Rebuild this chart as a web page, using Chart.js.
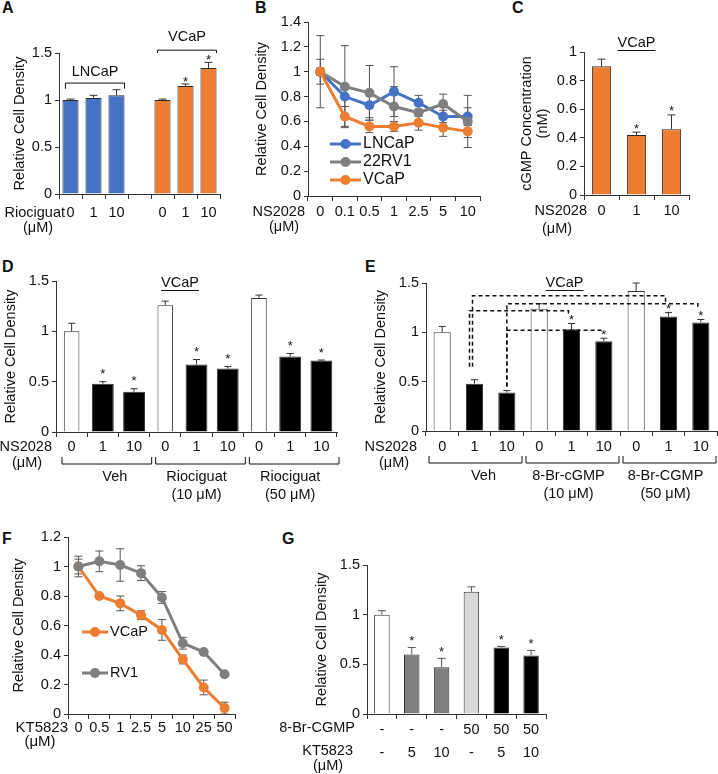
<!DOCTYPE html>
<html>
<head>
<meta charset="utf-8">
<script src="https://cdn.jsdelivr.net/npm/chart.js@4.4.0/dist/chart.umd.min.js"></script>
<style>
  html, body { margin: 0; padding: 0; background: #fff; }
  body { width: 718px; height: 774px; position: relative; overflow: hidden; font-family: 'Liberation Sans', Arial, sans-serif; }
  canvas { position: absolute; }
  .tag { position: absolute; font-weight: bold; font-size: 16px; line-height: 16px; color: #111; }
</style>
</head>
<body>
<div class="tag" style="left:2px;top:0px">A</div>
<div class="tag" style="left:255px;top:0px">B</div>
<div class="tag" style="left:512px;top:0px">C</div>
<div class="tag" style="left:2px;top:259px">D</div>
<div class="tag" style="left:365px;top:259px">E</div>
<div class="tag" style="left:2px;top:531px">F</div>
<div class="tag" style="left:282px;top:531px">G</div>

<canvas id="chartA"></canvas>
<canvas id="chartB"></canvas>
<canvas id="chartC"></canvas>
<canvas id="chartD"></canvas>
<canvas id="chartE"></canvas>
<canvas id="chartF"></canvas>
<canvas id="chartG"></canvas>

<script>
// ---- A: riociguat, LNCaP vs VCaP ----
const aDoses = ['0', '1', '10', '', '0', '1', '10'];
const aDensity = [1.00, 1.02, 1.05, null, 1.00, 1.15, 1.34];
const aError = [0.01, 0.03, 0.06, null, 0.01, 0.02, 0.06];
const aStar = [false, false, false, false, false, true, true];
const aCells = ['LNCaP', 'VCaP'];

// ---- B: NS2028 dose response ----
const bDoses = ['0', '0.1', '0.5', '1', '2.5', '5', '10'];
const bLNCaP = [1.00, 0.80, 0.73, 0.84, 0.75, 0.64, 0.64];
const bLNCaPErr = [0.10, 0.08, 0.10, 0.20, 0.06, 0.05, 0.07];
const b22RV1 = [1.00, 0.88, 0.83, 0.72, 0.67, 0.74, 0.60];
const b22RV1Err = [0.29, 0.33, 0.22, 0.16, 0.03, 0.08, 0.21];
const bVCaP = [1.00, 0.64, 0.56, 0.56, 0.59, 0.55, 0.52];
const bVCaPErr = [0.03, 0.08, 0.05, 0.04, 0.06, 0.07, 0.05];

// ---- C: cGMP concentration ----
const cDoses = ['0', '1', '10'];
const cConc = [0.90, 0.42, 0.46];
const cError = [0.05, 0.02, 0.10];
const cStar = [false, true, true];

// ---- D: NS2028 with riociguat ----
const dDoses = ['0', '1', '10', '0', '1', '10', '0', '1', '10'];
const dDensity = [1.00, 0.48, 0.40, 1.26, 0.67, 0.63, 1.33, 0.75, 0.71];
const dError = [0.08, 0.02, 0.03, 0.04, 0.05, 0.02, 0.03, 0.03, 0.005];
const dStar = [false, true, true, false, true, true, false, true, true];
const dGroups = [['Veh'], ['Riociguat', '(10 μM)'], ['Riociguat', '(50 μM)']];

// ---- E: NS2028 with 8-Br-cGMP ----
const eDoses = ['0', '1', '10', '0', '1', '10', '0', '1', '10'];
const eDensity = [1.00, 0.48, 0.39, 1.24, 1.03, 0.91, 1.42, 1.16, 1.10];
const eError = [0.06, 0.04, 0.02, 0.05, 0.06, 0.03, 0.08, 0.04, 0.03];
const eStar = [false, false, false, false, true, true, false, true, true];
const eGroups = [['Veh'], ['8-Br-cGMP', '(10 μM)'], ['8-Br-CGMP', '(50 μM)']];
// [from bar, to bar, bracket level, start level]
const eCompare = [[1, 7, 1.37, 0.65], [1, 4, 1.22, 0.65], [2, 8, 1.29, 0.45], [2, 5, 1.02, 0.45]];

// ---- F: KT5823 dose response ----
const fDoses = ['0', '0.5', '1', '2.5', '5', '10', '25', '50'];
const fVCaP = [1.00, 0.80, 0.75, 0.67, 0.57, 0.37, 0.18, 0.04];
const fVCaPErr = [0.05, 0.01, 0.05, 0.03, 0.07, 0.03, 0.05, 0.04];
const fRV1 = [1.00, 1.035, 1.01, 0.955, 0.79, 0.48, 0.42, 0.27];
const fRV1Err = [0.07, 0.07, 0.11, 0.05, 0.04, 0.04, 0.01, 0.01];

// ---- G: 8-Br-cGMP with KT5823 ----
const gBromo = ['-', '-', '-', '50', '50', '50'];
const gKT = ['-', '5', '10', '-', '5', '10'];
const gDensity = [1.00, 0.60, 0.47, 1.23, 0.67, 0.59];
const gError = [0.04, 0.07, 0.09, 0.05, 0.01, 0.05];
const gStar = [false, true, true, false, true, true];

const FONT = "'Liberation Sans', Arial, Helvetica, sans-serif";
const BLUE = '#4472C4', ORANGE = '#ED7D31', GRAY = '#7F7F7F';
const INK = '#111', AXIS = '#333';

Chart.defaults.font.family = FONT;
Chart.defaults.font.size = 14.5;
Chart.defaults.color = INK;
Chart.defaults.animation = false;
Chart.defaults.plugins.legend.display = false;
Chart.defaults.plugins.tooltip.enabled = false;

function text(ctx, s, x, y, align, size, weight) {
    ctx.save();
    ctx.font = (weight || 'normal') + ' ' + (size || 14.5) + 'px ' + FONT;
    ctx.fillStyle = INK;
    ctx.textAlign = align || 'center';
    ctx.textBaseline = 'middle';
    ctx.fillText(s, x, y);
    ctx.restore();
}

function path(ctx, pts, dash, width) {
    ctx.save();
    ctx.strokeStyle = INK;
    ctx.lineWidth = width || 1;
    ctx.setLineDash(dash || []);
    ctx.beginPath();
    pts.forEach((p, i) => i ? ctx.lineTo(p[0], p[1]) : ctx.moveTo(p[0], p[1]));
    ctx.stroke();
    ctx.restore();
}

function underlined(ctx, s, x, y) {
    text(ctx, s, x, y);
    ctx.save();
    ctx.font = '14.5px ' + FONT;
    const w = ctx.measureText(s).width;
    ctx.restore();
    path(ctx, [[x - w / 2, y + 7.5], [x + w / 2, y + 7.5]]);
}

// error bars + significance stars, read from dataset.errors / dataset.stars
function drawErrors(chart, both) {
    const ctx = chart.ctx, y = chart.scales.y;
    chart.data.datasets.forEach((ds, di) => {
        if (!ds.errors || !!ds.errorBoth !== both) return;
        const meta = chart.getDatasetMeta(di);
        meta.data.forEach((el, i) => {
            const v = ds.data[i], e = ds.errors[i];
            if (v == null || e == null) return;
            const top = y.getPixelForValue(v + e);
            const bot = both ? y.getPixelForValue(v - e) : el.y;
            const cap = ds.capHalf || 4;
            ctx.save();
            ctx.strokeStyle = ds.errorColor || AXIS;
            ctx.lineWidth = 1;
            ctx.beginPath();
            ctx.moveTo(el.x, top); ctx.lineTo(el.x, bot);
            ctx.moveTo(el.x - cap, top); ctx.lineTo(el.x + cap, top);
            if (both) { ctx.moveTo(el.x - cap, bot); ctx.lineTo(el.x + cap, bot); }
            ctx.stroke();
            ctx.restore();
            if (ds.stars && ds.stars[i]) text(ctx, '*', el.x, top - ds.starGap + 3, 'center', 13);
        });
    });
}
const errorBars = {
    id: 'errorBars',
    beforeDatasetsDraw(chart) { drawErrors(chart, true); },
    afterDatasetsDraw(chart) { drawErrors(chart, false); }
};

function lineLegend(dx, dy, step, len, size) {
    return {
        id: 'lineLegend',
        afterDraw(c) {
            const ctx = c.ctx, a = c.chartArea;
            c.data.datasets.forEach((ds, i) => {
                const x = a.left + dx, y = a.top + dy + i * step;
                ctx.save();
                ctx.strokeStyle = ds.borderColor;
                ctx.fillStyle = ds.borderColor;
                ctx.lineWidth = 3;
                ctx.beginPath(); ctx.moveTo(x, y); ctx.lineTo(x + len, y); ctx.stroke();
                ctx.beginPath(); ctx.arc(x + len / 2, y, 5, 0, Math.PI * 2); ctx.fill();
                ctx.restore();
                text(ctx, ds.label, x + len + 2, y, 'left', size);
            });
        }
    };
}

function groupBrackets(c, groups, shiftL, shiftR) {
    const ctx = c.ctx, x = c.scales.x, b = c.chartArea.bottom;
    const w = x.getPixelForValue(1) - x.getPixelForValue(0);
    groups.forEach((lines, g) => {
        const l = x.getPixelForValue(g * 3) - w / 2 + shiftL;
        const r = x.getPixelForValue(g * 3 + 2) + w / 2 + shiftR;
        path(ctx, [[l, b + 25], [l, b + 32], [r, b + 32], [r, b + 25]]);
        lines.forEach((s, k) => text(ctx, s, (l + r) / 2 + (g === 0 ? 8 : -4), b + 45 + k * 18));
    });
}

const plainNumber = v => String(Math.round(v * 100) / 100);

function yAxis(min, max, step, title, pad, lh) {
    return {
        min: min, max: max,
        ticks: { stepSize: step, padding: 3, callback: plainNumber },
        grid: { drawOnChartArea: false, drawTicks: true, tickLength: 4, color: AXIS },
        border: { display: true, color: AXIS },
        title: { display: true, text: title, padding: { top: pad, bottom: 0 }, font: { size: 14.5, lineHeight: lh || 1.2 } }
    };
}
function xAxis(pad, lh) {
    return {
        offset: true,
        ticks: { padding: pad, maxRotation: 0, autoSkip: false, font: { size: 14.5, lineHeight: lh || 1.2 } },
        grid: { offset: true, drawOnChartArea: false, drawTicks: true, tickLength: 5, color: AXIS },
        border: { display: true, color: AXIS }
    };
}

// box = canvas rectangle on the page, area = wanted plot rectangle on the page
function makeChart(id, box, area, cfg) {
    const cv = document.getElementById(id);
    cv.width = box.w; cv.height = box.h;
    cv.style.left = box.x + 'px'; cv.style.top = box.y + 'px';
    cv.style.width = box.w + 'px'; cv.style.height = box.h + 'px';
    const o = cfg.options;
    o.responsive = false;
    o.maintainAspectRatio = false;
    o.layout = { padding: { left: 0, top: area.y0 - box.y, right: box.x + box.w - area.x1, bottom: 0 } };
    o.scales.x.afterFit = s => { s.height = box.y + box.h - area.y1; };
    o.scales.y.afterFit = s => { s.width = area.x0 - box.x; };
    return new Chart(cv, cfg);
}

function barSet(values, errors, stars, keep, color, pct, gap) {
    return {
        data: values.map((v, i) => keep(i) ? v : null),
        errors: errors.map((v, i) => keep(i) ? v : null),
        stars: stars.map((v, i) => keep(i) ? v : false),
        backgroundColor: color, borderColor: AXIS, borderWidth: 1,
        barPercentage: pct, categoryPercentage: 1, grouped: false,
        capHalf: 3.5, starGap: gap
    };
}

// ---------- A ----------
makeChart('chartA', { x: 0, y: 20, w: 228, h: 225 }, { x0: 59, y0: 53, x1: 220, y1: 194 }, {
    type: 'bar',
    data: {
        labels: aDoses,
        datasets: [{
            data: aDensity, errors: aError, stars: aStar,
            backgroundColor: aDensity.map((v, i) => i < 3 ? BLUE : ORANGE),
            borderColor: '#2a2a2a', borderWidth: 1,
            barPercentage: 0.7, categoryPercentage: 1, capHalf: 4, starGap: 5
        }]
    },
    options: { scales: { x: xAxis(5), y: yAxis(0, 1.5, 0.5, 'Relative Cell Density', 11.3) } },
    plugins: [errorBars, {
        id: 'annA',
        afterDraw(c) {
            const ctx = c.ctx, a = c.chartArea, y = c.scales.y, bars = c.getDatasetMeta(0).data;
            text(ctx, 'Riociguat', a.left + 6, a.bottom + 19, 'right');
            text(ctx, '(μM)', a.left - 21, a.bottom + 34);
            [[0, 2, 1.18, 1.12, 1.30], [4, 6, 1.53, 1.50, 1.67]].forEach((g, k) => {
                const xl = bars[g[0]].x - bars[g[0]].width / 2 + 3, xr = bars[g[1]].x + bars[g[1]].width / 2;
                path(ctx, [[xl, y.getPixelForValue(g[3])], [xl, y.getPixelForValue(g[2])],
                           [xr, y.getPixelForValue(g[2])], [xr, y.getPixelForValue(g[3])]]);
                text(ctx, aCells[k], (xl + xr) / 2, y.getPixelForValue(g[4]));
            });
        }
    }]
});

// ---------- B ----------
const lineStyle = { borderWidth: 3, pointRadius: 5, pointHoverRadius: 5, pointBorderWidth: 0, errorBoth: true, errorColor: '#555', capHalf: 4 };
makeChart('chartB', { x: 235, y: 0, w: 250, h: 245 }, { x0: 308, y0: 22, x1: 483, y1: 196 }, {
    type: 'line',
    data: {
        labels: bDoses,
        datasets: [
            Object.assign({ label: 'LNCaP', data: bLNCaP, errors: bLNCaPErr, borderColor: BLUE, backgroundColor: BLUE, order: 2 }, lineStyle),
            Object.assign({ label: '22RV1', data: b22RV1, errors: b22RV1Err, borderColor: GRAY, backgroundColor: GRAY, order: 1 }, lineStyle),
            Object.assign({ label: 'VCaP', data: bVCaP, errors: bVCaPErr, borderColor: ORANGE, backgroundColor: ORANGE, order: 0 }, lineStyle)
        ]
    },
    options: { scales: { x: xAxis(2), y: yAxis(0, 1.4, 0.2, 'Relative Cell Density', 18.3) } },
    plugins: [errorBars, lineLegend(22, 122, 18, 31, 16), {
        id: 'annB',
        afterDraw(c) {
            const ctx = c.ctx, a = c.chartArea;
            text(ctx, 'NS2028', a.left - 3, a.bottom + 16, 'right');
            text(ctx, '(μM)', a.left - 24, a.bottom + 31);
        }
    }]
});

// ---------- C ----------
makeChart('chartC', { x: 490, y: 20, w: 228, h: 225 }, { x0: 584, y0: 52, x1: 689, y1: 195 }, {
    type: 'bar',
    data: {
        labels: cDoses,
        datasets: [{
            data: cConc, errors: cError, stars: cStar,
            backgroundColor: ORANGE, borderColor: '#2a2a2a', borderWidth: 1,
            barPercentage: 0.55, categoryPercentage: 1, capHalf: 4, starGap: 6
        }]
    },
    options: { scales: { x: xAxis(2), y: yAxis(0, 1, 0.2, ['cGMP Concentration', '(nM)'], 29, 1.1) } },
    plugins: [errorBars, {
        id: 'annC',
        afterDraw(c) {
            const ctx = c.ctx, a = c.chartArea;
            underlined(ctx, 'VCaP', c.scales.x.getPixelForValue(1), a.top - 9);
            text(ctx, 'NS2028', a.left + 3, a.bottom + 16, 'right');
            text(ctx, '(μM)', a.left - 27, a.bottom + 34);
        }
    }]
});

// ---------- D ----------
makeChart('chartD', { x: 0, y: 265, w: 350, h: 240 }, { x0: 56, y0: 281, x1: 337, y1: 432 }, {
    type: 'bar',
    data: {
        labels: dDoses,
        datasets: [
            barSet(dDensity, dError, dStar, i => dDoses[i] === '0', '#fff', 0.5, 10),
            barSet(dDensity, dError, dStar, i => dDoses[i] !== '0', '#000', 0.7, 10)
        ]
    },
    options: { scales: { x: xAxis(1.3), y: yAxis(0, 1.5, 0.5, 'Relative Cell Density', 2.3) } },
    plugins: [errorBars, {
        id: 'annD',
        afterDraw(c) {
            const ctx = c.ctx, a = c.chartArea;
            underlined(ctx, 'VCaP', a.left + 124, a.top + 2);
            text(ctx, 'NS2028', a.left - 4, a.bottom + 15, 'right');
            text(ctx, '(μM)', a.left - 29, a.bottom + 31);
            groupBrackets(c, dGroups, 6, 2);
        }
    }]
});

// ---------- E ----------
makeChart('chartE', { x: 355, y: 265, w: 363, h: 240 }, { x0: 426, y0: 283, x1: 717, y1: 431 }, {
    type: 'bar',
    data: {
        labels: eDoses,
        datasets: [
            barSet(eDensity, eError, eStar, i => eDoses[i] === '0', '#fff', 0.53, 6),
            barSet(eDensity, eError, eStar, i => eDoses[i] !== '0', '#000', 0.53, 6)
        ]
    },
    options: { scales: { x: xAxis(2), y: yAxis(0, 1.5, 0.5, 'Relative Cell Density', 17.3) } },
    plugins: [errorBars, {
        id: 'annE',
        afterDraw(c) {
            const ctx = c.ctx, a = c.chartArea, x = c.scales.x, y = c.scales.y;
            underlined(ctx, 'VCaP', x.getPixelForValue(4) - 7, a.top);
            text(ctx, 'NS2028', a.left - 9, a.bottom + 16, 'right');
            text(ctx, '(μM)', a.left - 32, a.bottom + 32);
            groupBrackets(c, eGroups, 3, -1);
            const startShift = [-2, -5, 0, 0];
            eCompare.forEach((cmp, k) => {
                const x0 = x.getPixelForValue(cmp[0]) + startShift[k];
                const x1 = x.getPixelForValue(cmp[1]) - 3;
                const lev = y.getPixelForValue(cmp[2]);
                const end = y.getPixelForValue(eDensity[cmp[1]] + eError[cmp[1]]) - 10;
                path(ctx, [[x0, y.getPixelForValue(cmp[3])], [x0, lev], [x1, lev], [x1, end]], [4, 3], 1.5);
            });
        }
    }]
});

// ---------- F ----------
makeChart('chartF', { x: 0, y: 525, w: 260, h: 240 }, { x0: 68, y0: 537, x1: 235, y1: 714 }, {
    type: 'line',
    data: {
        labels: fDoses,
        datasets: [
            Object.assign({ label: 'VCaP', data: fVCaP, errors: fVCaPErr, borderColor: ORANGE, backgroundColor: ORANGE, order: 1 }, lineStyle),
            Object.assign({ label: 'RV1', data: fRV1, errors: fRV1Err, borderColor: GRAY, backgroundColor: GRAY, order: 0 }, lineStyle)
        ]
    },
    options: { scales: { x: xAxis(0.3), y: yAxis(0, 1.2, 0.2, 'Relative Cell Density', 10.3) } },
    plugins: [errorBars, lineLegend(14, 95, 41, 26, 14.5), {
        id: 'annF',
        afterDraw(c) {
            const ctx = c.ctx, a = c.chartArea;
            text(ctx, 'KT5823', a.left, a.bottom + 14, 'right', 15);
            text(ctx, '(μM)', a.left - 28, a.bottom + 28, 'center', 15);
        }
    }]
});

// ---------- G ----------
const gFill = gBromo.map((b, i) => b === '-' ? (gKT[i] === '-' ? '#fff' : '#7f7f7f') : (gKT[i] === '-' ? '#d9d9d9' : '#000'));
makeChart('chartG', { x: 262, y: 545, w: 323, h: 229 }, { x0: 367, y0: 565, x1: 546, y1: 714 }, {
    type: 'bar',
    data: {
        labels: gBromo.map((b, i) => [b, gKT[i]]),
        datasets: [{
            data: gDensity, errors: gError, stars: gStar,
            backgroundColor: gFill, borderColor: AXIS, borderWidth: 1,
            barPercentage: 0.52, categoryPercentage: 1, capHalf: 4, starGap: 9, errorColor: '#555'
        }]
    },
    options: { scales: { x: xAxis(0, 1.55), y: yAxis(0, 1.5, 0.5, 'Relative Cell Density', 51.3) } },
    plugins: [errorBars, {
        id: 'annG',
        afterDraw(c) {
            const ctx = c.ctx, a = c.chartArea;
            text(ctx, '8-Br-CGMP', a.left - 12, a.bottom + 14, 'right');
            text(ctx, 'KT5823', a.left - 14, a.bottom + 37, 'right');
            text(ctx, '(μM)', a.left - 39, a.bottom + 52);
        }
    }]
});
</script>
</body>
</html>
